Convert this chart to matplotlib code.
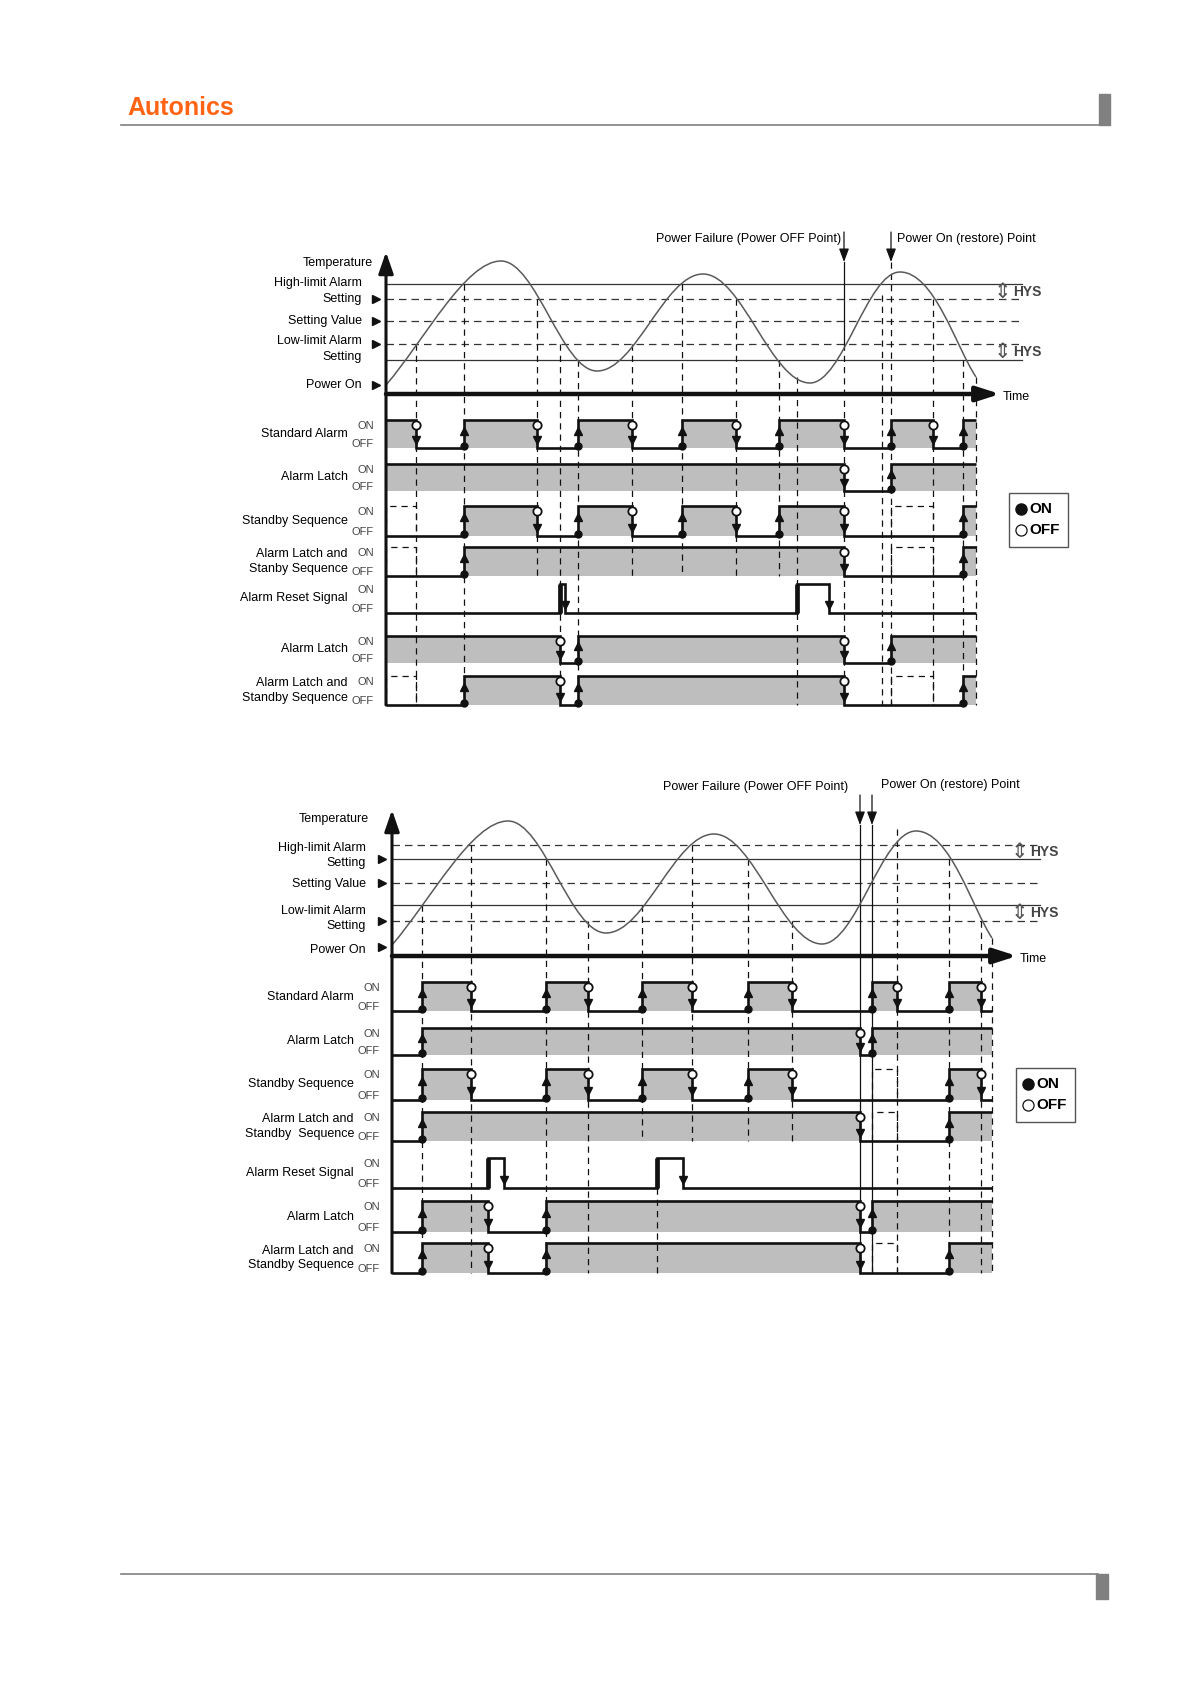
import matplotlib
matplotlib.use("Agg")
import matplotlib.pyplot as plt
from matplotlib.path import Path
from matplotlib.patches import PathPatch, Rectangle

plt.rcParams['font.family'] = ['Liberation Sans', 'DejaVu Sans']

W, H = 1191, 1684
INK = '#111111'
GRAY = '#bebebe'
CURVE = '#5a5a5a'

# ---------------------------------------------------------------------------
# data.  Time is counted from "Power On", temperature from the setting value,
# both in drawing units.
# ---------------------------------------------------------------------------

# diagram 1 : high/low deviation alarm
curve1_t = [0, 115, 211, 317, 424, 514, 590]
curve1_T = [-64, 60, -50, 47, -62, 49, -56]
limits1_T = [37, 22, 0, -23, -39]
limits1_dashed = [False, True, True, True, False]
hys1_T = [(37, 22), (-23, -39)]
power_off1, power_on1, t_end1 = 458, 505, 590

std1 = [(0, 1), (30, 0), (78, 1), (151, 0), (192, 1), (246, 0), (296, 1), (350, 0),
        (393, 1), (458, 0), (505, 1), (547, 0), (577, 1)]
latch1 = [(0, 1), (458, 0), (505, 1)]
standby1 = [(0, 0), (78, 1), (151, 0), (192, 1), (246, 0), (296, 1), (350, 0), (393, 1),
            (458, 0), (577, 1)]
latch_standby1 = [(0, 0), (78, 1), (458, 0), (577, 1)]
reset1 = [(0, 0), (174, 1), (179, 0), (411, 1), (443, 0)]
latch_reset1 = [(0, 1), (174, 0), (192, 1), (458, 0), (505, 1)]
latch_standby_reset1 = [(0, 0), (78, 1), (174, 0), (192, 1), (458, 0), (577, 1)]

ghost1 = [(0, 30), (505, 547)]          # suppressed ON periods (dashed)
# (time, temperature where the guide starts, last row reached)
guides1 = [(30, -23, 7), (78, 37, 7), (151, 22, 4), (174, -23, 7), (192, -39, 7),
           (246, -23, 4), (296, 37, 4), (350, 22, 4), (393, -39, 4), (411, -56, 7),
           (496, 26, 7), (547, 22, 7), (577, -39, 7), (590, -56, 7)]

# diagram 2 : band alarm
curve2_t = [0, 116, 214, 322, 430, 524, 600]
curve2_T = [-62, 62, -50, 49, -61, 52, -55]
limits2_T = [38, 24, 0, -22, -38]
limits2_dashed = [True, False, True, False, True]
hys2_T = [(38, 24), (-22, -38)]
power_off2, power_on2, t_end2 = 468, 480, 600

std2 = [(0, 0), (30, 1), (79, 0), (154, 1), (196, 0), (250, 1), (300, 0), (356, 1),
        (400, 0), (480, 1), (505, 0), (557, 1), (589, 0)]
latch2 = [(0, 0), (30, 1), (468, 0), (480, 1)]
standby2 = [(0, 0), (30, 1), (79, 0), (154, 1), (196, 0), (250, 1), (300, 0), (356, 1),
            (400, 0), (557, 1), (589, 0)]
latch_standby2 = [(0, 0), (30, 1), (468, 0), (557, 1)]
reset2 = [(0, 0), (96, 1), (112, 0), (265, 1), (291, 0)]
latch_reset2 = [(0, 0), (30, 1), (96, 0), (154, 1), (468, 0), (480, 1)]
latch_standby_reset2 = [(0, 0), (30, 1), (96, 0), (154, 1), (468, 0), (557, 1)]

ghost2 = [(480, 505)]
guides2 = [(30, -22, 7), (79, 38, 7), (154, 24, 7), (196, -38, 7), (250, -22, 4),
           (300, 38, 4), (356, 24, 4), (400, -38, 4), (505, 54, 7), (557, 24, 7),
           (589, -38, 7), (600, -55, 7)]
reset_guides2 = [265]

names1 = ["Standard Alarm", "Alarm Latch", "Standby Sequence", "Alarm Latch and\nStanby Sequence",
          "Alarm Reset Signal", "Alarm Latch", "Alarm Latch and\nStandby Sequence"]
names2 = ["Standard Alarm", "Alarm Latch", "Standby Sequence", "Alarm Latch and\nStandby  Sequence",
          "Alarm Reset Signal", "Alarm Latch", "Alarm Latch and\nStandby Sequence"]

side1 = [("Temperature", 58), ("High-limit Alarm", 38), ("Setting", 22), ("Setting Value", 0),
         ("Low-limit Alarm", -20), ("Setting", -36), ("Power On", -64)]
pointers1 = [22, 0, -23, -64]
side2 = [("Temperature", 64), ("High-limit Alarm", 35), ("Setting", 20), ("Setting Value", -1),
         ("Low-limit Alarm", -28), ("Setting", -43), ("Power On", -67)]
pointers2 = [24, 0, -38, -64]

# ---------------------------------------------------------------------------
fig = plt.figure(figsize=(W / 100, H / 100), dpi=100)
ax = fig.add_axes([0, 0, 1, 1])
ax.set_xlim(0, W)
ax.set_ylim(H, 0)
ax.axis('off')


def draw_curve(ts, Ts, X, Y, start_slope=1.16, end_slope=-1.5):
    c = 0.3634
    verts = [(X(ts[0]), Y(Ts[0]))]
    codes = [Path.MOVETO]
    n = len(ts)
    for i in range(n - 1):
        t0, T0, t1, T1 = ts[i], Ts[i], ts[i + 1], Ts[i + 1]
        dt = t1 - t0
        if i == 0:
            p1 = (t0 + 0.33 * dt, T0 + 0.33 * dt * start_slope)
            p2 = (t1 - 0.31 * dt, T1)
        elif i == n - 2:
            p1 = (t0 + 0.45 * dt, T0)
            p2 = (t1 - 20, T1 - 20 * end_slope)
        else:
            p1 = (t0 + c * dt, T0)
            p2 = (t1 - c * dt, T1)
        verts += [(X(p1[0]), Y(p1[1])), (X(p2[0]), Y(p2[1])), (X(t1), Y(T1))]
        codes += [Path.CURVE4] * 3
    ax.add_patch(PathPatch(Path(verts, codes), fill=False, ec=CURVE, lw=1.1, zorder=4))


def draw_signal(X, on_y, off_y, changes, t_end, reset=False):
    xs, ys = [], []
    prev = None
    for t, s in changes:
        y = on_y if s else off_y
        if prev is not None:
            xs.append(X(t)); ys.append(prev)
        xs.append(X(t)); ys.append(y)
        prev = y
    xs.append(X(t_end)); ys.append(prev)
    ax.plot(xs, ys, color=INK, lw=1.9, solid_joinstyle='miter', solid_capstyle='butt', zorder=6)
    h = off_y - on_y
    for i, (t, s) in enumerate(changes):
        t2 = changes[i + 1][0] if i + 1 < len(changes) else t_end
        if s and not reset:
            ax.add_patch(Rectangle((X(t), on_y), t2 - t, h, fc=GRAY, ec='none', zorder=1))
        if i == 0:
            continue
        x = X(t)
        if reset:
            if s:
                ax.plot([x, x], [off_y, on_y], color=INK, lw=3.4, solid_capstyle='butt', zorder=6)
            else:
                ax.plot(x, on_y + 0.72 * h, marker='v', ms=6, color=INK, zorder=7)
        elif s:
            ax.plot(x, off_y - 2.5, 'o', ms=5, color=INK, zorder=7)
            ax.plot(x, on_y + 0.38 * h, marker='^', ms=6, color=INK, zorder=7)
        else:
            ax.plot(x, on_y + 5, 'o', ms=6, mfc='white', mec=INK, mew=1.3, zorder=8)
            ax.plot(x, on_y + 0.72 * h, marker='v', ms=6, color=INK, zorder=7)


def dashed_v(x, y0, y1):
    ax.plot([x, x], [y0, y1], color=INK, lw=0.9, ls=(0, (5, 4)), zorder=3)


def draw_diagram(x0, y_sv, curve_t, curve_T, limits_T, limits_dashed, hys_T, line_end,
                 rows, names, on_y, off_y, t_end, ghost, guides, side, pointers,
                 side_right, temp_right, axis_tip_T, time_tip, hys_t):
    X = lambda t: x0 + t
    Y = lambda T: y_sv - T
    bottom = off_y[-1]

    # limit lines
    for T, dashed in zip(limits_T, limits_dashed):
        ax.plot([X(0), X(line_end)], [Y(T), Y(T)], color='#333333', lw=0.9,
                ls=(0, (6, 4)) if dashed else '-', zorder=2)
    for a, b in hys_T:
        ym = Y((a + b) / 2)
        ax.text(X(hys_t), ym, '\u21d5', fontsize=15, family='DejaVu Sans', color='#555555',
                ha='center', va='center', zorder=5)
        ax.text(X(hys_t) + 11, ym, 'HYS', fontsize=10, fontweight='bold', color='#444444',
                ha='left', va='center')

    draw_curve(curve_t, curve_T, X, Y)

    # axes arrows
    ax.annotate('', xy=(X(0), Y(axis_tip_T)), xytext=(X(0), bottom),
                arrowprops=dict(arrowstyle='-|>,head_length=1.3,head_width=0.45', mutation_scale=10,
                                lw=2.2, color=INK, shrinkA=0, shrinkB=0), zorder=7)
    ax.annotate('', xy=(X(time_tip), Y(-73)), xytext=(X(0), Y(-73)),
                arrowprops=dict(arrowstyle='-|>,head_length=1.4,head_width=0.45', mutation_scale=10,
                                lw=3.2, color=INK, shrinkA=0, shrinkB=0), zorder=7)
    ax.text(X(time_tip) + 3, Y(-76), 'Time', fontsize=9, ha='left', va='center')

    # side labels
    for txt, T in side:
        ax.text(temp_right if txt == 'Temperature' else side_right, Y(T), txt,
                fontsize=9, ha='right', va='center')
    for T in pointers:
        ax.plot(X(-10), Y(T), marker='>', ms=6, color=INK, zorder=7)

    # guides
    for t, T, last in guides:
        dashed_v(X(t), Y(T), off_y[last - 1])

    # signal rows
    for k, (sig, name) in enumerate(zip(rows, names)):
        draw_signal(X, on_y[k], off_y[k], sig, t_end, reset=(k == 4))
        mid = (on_y[k] + off_y[k]) / 2
        ax.text(X(-38), mid, name, fontsize=9, ha='right', va='center',
                multialignment='right', linespacing=1.3)
        ax.text(X(-12), on_y[k] + 6, 'ON', fontsize=8, color='#444444', ha='right', va='center')
        ax.text(X(-12), off_y[k] - 4, 'OFF', fontsize=8, color='#444444', ha='right', va='center')
        if k in (2, 3, 6):
            for a, b in ghost:
                ax.plot([X(a), X(a), X(b), X(b)], [off_y[k], on_y[k], on_y[k], off_y[k]],
                        color=INK, lw=0.9, ls=(0, (5, 4)), zorder=3)
    return X, Y


# ---------------- diagram 1 ----------------
on1 = [420, 464, 506, 547, 584, 636, 676]
off1 = [448, 491, 536, 576, 613, 663, 705]
X1, Y1 = draw_diagram(386, 321, curve1_t, curve1_T, limits1_T, limits1_dashed, hys1_T, 636,
                      [std1, latch1, standby1, latch_standby1, reset1, latch_reset1, latch_standby_reset1],
                      names1, on1, off1, t_end1, ghost1, guides1, side1, pointers1,
                      362, 373, 69, 614, 616)
arrow_kw = dict(arrowstyle='-|>,head_length=0.8,head_width=0.3', mutation_scale=10,
                lw=0.9, color=INK, shrinkA=0, shrinkB=0)
for t in (power_off1, power_on1):
    ax.annotate('', xy=(X1(t), Y1(59)), xytext=(X1(t), Y1(89)), arrowprops=arrow_kw)
ax.plot([X1(power_off1)] * 2, [Y1(59), Y1(-23)], color=INK, lw=0.9, zorder=3)
dashed_v(X1(power_off1), Y1(-23), off1[-1])
dashed_v(X1(power_on1), Y1(59), off1[-1])
ax.text(X1(power_off1) - 3, Y1(82), 'Power Failure (Power OFF Point)', fontsize=9, ha='right', va='center')
ax.text(X1(power_on1) + 6, Y1(82), 'Power On (restore) Point', fontsize=9, ha='left', va='center')

# ---------------- diagram 2 ----------------
on2 = [982, 1028, 1069, 1112, 1158, 1201, 1243]
off2 = [1011, 1055, 1100, 1141, 1188, 1232, 1273]
X2, Y2 = draw_diagram(392, 883, curve2_t, curve2_T, limits2_T, limits2_dashed, hys2_T, 648,
                      [std2, latch2, standby2, latch_standby2, reset2, latch_reset2, latch_standby_reset2],
                      names2, on2, off2, t_end2, ghost2, guides2, side2, pointers2,
                      366, 369, 73, 625, 627)
for t in reset_guides2:
    dashed_v(X2(t), off2[4], off2[-1])
for t in (power_off2, power_on2):
    ax.annotate('', xy=(X2(t), Y2(58)), xytext=(X2(t), Y2(88)), arrowprops=arrow_kw)
    ax.plot([X2(t)] * 2, [Y2(58), off2[-1]], color=INK, lw=0.9, zorder=3)
ax.text(X2(power_off2) - 197, Y2(96), 'Power Failure (Power OFF Point)', fontsize=9, ha='left', va='center')
ax.text(X2(power_on2) + 9, Y2(98), 'Power On (restore) Point', fontsize=9, ha='left', va='center')

# ---------------- legends ----------------
for bx, by, mx in ((1009, 493, 1021), (1016, 1068, 1028)):
    ax.add_patch(Rectangle((bx, by), 59, 54, fill=False, ec='#555555', lw=1.0))
    ax.plot(mx, by + 16, 'o', ms=8, color=INK)
    ax.plot(mx, by + 37, 'o', ms=8, mfc='white', mec=INK, mew=0.9)
    ax.text(mx + 8, by + 16, 'ON', fontsize=11, fontweight='bold', ha='left', va='center')
    ax.text(mx + 8, by + 37, 'OFF', fontsize=11, fontweight='bold', ha='left', va='center')

# ---------------- page header / footer ----------------
ax.text(127, 115, 'Autonics', color='#ff6414', fontsize=18, fontweight='heavy',
        family='Liberation Sans', ha='left', va='baseline')
ax.plot([121, 1109], [124.5, 124.5], color='#808080', lw=1.2)
ax.add_patch(Rectangle((1099, 94), 11, 31, color='#808080'))
ax.plot([121, 1098], [1574, 1574], color='#808080', lw=1.2)
ax.add_patch(Rectangle((1096, 1574), 12, 25, color='#808080'))

fig.savefig('out.png', dpi=100, facecolor='white')
